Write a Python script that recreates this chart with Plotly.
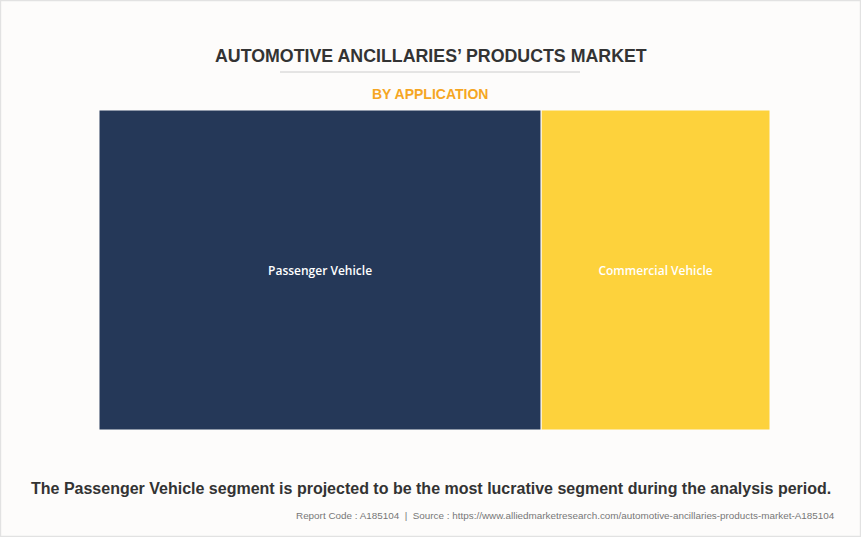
import plotly.graph_objects as go

W, H = 861, 537
labels = ["Passenger Vehicle", "Commercial Vehicle"]
parents = ["", ""]
values = [65.9, 34.1]
colors = ["#253858", "#fdd23c"]

title = "AUTOMOTIVE ANCILLARIES\u2019 PRODUCTS MARKET"
subtitle = "BY APPLICATION"
footer = "The Passenger Vehicle segment is projected to be the most lucrative segment during the analysis period."
source = "Report Code : A185104  |  Source : https://www.alliedmarketresearch.com/automotive-ancillaries-products-market-A185104"

def px(x):
    return x / W

def py(y):
    return 1 - y / H

fig = go.Figure(go.Treemap(
    labels=labels,
    parents=parents,
    values=values,
    sort=False,
    tiling=dict(packing="dice", pad=0),
    marker=dict(colors=colors, line=dict(color="#fdfcfb", width=1), pad=dict(t=0, l=0, r=0, b=0)),
    textinfo="label",
    textposition="middle center",
    textfont=dict(family="Open Sans", size=12, color="white", weight=600),
    hoverinfo="label+value",
    domain=dict(x=[px(99), px(770)], y=[py(430), py(110)]),
))

fig.update_layout(
    width=W, height=H,
    margin=dict(l=0, r=0, t=0, b=0),
    paper_bgcolor="#fdfcfb",
    plot_bgcolor="#fdfcfb",
    showlegend=False,
    annotations=[
        dict(text="<b>" + title + "</b>", x=px(430.5), y=py(56), xref="paper", yref="paper",
             showarrow=False, xanchor="center", yanchor="middle",
             font=dict(family="Liberation Sans, Arial", size=17.8, color="#333333")),
        dict(text="<b>" + subtitle + "</b>", x=px(430), y=py(94), xref="paper", yref="paper",
             showarrow=False, xanchor="center", yanchor="middle",
             font=dict(family="Liberation Sans, Arial", size=14, color="#f5a623")),
        dict(text="<b>" + footer + "</b>", x=px(431), y=py(488), xref="paper", yref="paper",
             showarrow=False, xanchor="center", yanchor="middle",
             font=dict(family="Liberation Sans, Arial", size=16, color="#333333")),
        dict(text=source, x=px(837), y=py(515), xref="paper", yref="paper",
             showarrow=False, xanchor="right", yanchor="middle",
             font=dict(family="Liberation Sans, Arial", size=9.9, color="#777777")),
    ],
    shapes=[
        dict(type="line", xref="paper", yref="paper", x0=px(280), x1=px(580), y0=py(72), y1=py(72),
             line=dict(color="#cccccc", width=1)),
        dict(type="rect", xref="paper", yref="paper", x0=0.0005, x1=0.9995, y0=0.001, y1=0.999,
             line=dict(color="#e2e2e2", width=1.5)),
    ],
)

fig.write_html("out.html", config={"displayModeBar": False},
               post_script="document.body.style.margin='0px';document.body.style.overflow='hidden';")
